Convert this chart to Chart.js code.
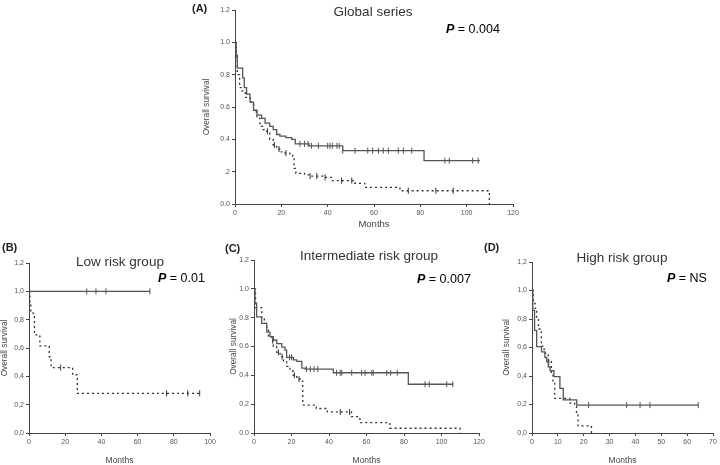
<!DOCTYPE html>
<html>
<head>
<meta charset="utf-8">
<script src="https://cdn.jsdelivr.net/npm/chart.js@4.4.0/dist/chart.umd.min.js"></script>
<style>
  body { margin:0; width:720px; height:465px; background:#fff; position:relative; overflow:hidden; font-family:"Liberation Sans", Arial, sans-serif; }
  canvas { position:absolute; }
  .txt { position:absolute; white-space:nowrap; line-height:1; }
  .title { font-size:13.5px; color:#333; transform:translate(-50%,-50%); }
  .pval { font-size:12.5px; color:#000; transform:translateY(-50%); }
  .pval i { font-weight:bold; }
  .lab { font-size:11px; font-weight:bold; color:#222; transform:translateY(-50%); }
</style>
</head>
<body>

<canvas id="cA" width="340" height="240" style="left:190px;top:0px;width:340px;height:240px"></canvas>
<canvas id="cB" width="225" height="225" style="left:0px;top:240px;width:225px;height:225px"></canvas>
<canvas id="cC" width="265" height="225" style="left:225px;top:240px;width:265px;height:225px"></canvas>
<canvas id="cD" width="230" height="225" style="left:490px;top:240px;width:230px;height:225px"></canvas>

<div class="txt lab" style="left:192px;top:8px">(A)</div>
<div class="txt title" style="left:373px;top:12px">Global series</div>
<div class="txt pval" style="left:446px;top:29px"><i>P</i> = 0.004</div>

<div class="txt lab" style="left:2px;top:247px">(B)</div>
<div class="txt title" style="left:120px;top:262px">Low risk group</div>
<div class="txt pval" style="left:158px;top:278px"><i>P</i> = 0.01</div>

<div class="txt lab" style="left:225px;top:248px">(C)</div>
<div class="txt title" style="left:369px;top:256px">Intermediate risk group</div>
<div class="txt pval" style="left:417px;top:279px"><i>P</i> = 0.007</div>

<div class="txt lab" style="left:484px;top:247px">(D)</div>
<div class="txt title" style="left:622px;top:258px">High risk group</div>
<div class="txt pval" style="left:667px;top:278px"><i>P</i> = NS</div>

<script>
// ---- data (months, survival, censored times) ----

// (A) global series
const monthsA1 = [0, 0.5, 1, 3.3, 4, 5, 6.5, 8, 9.5, 11.5, 13, 15, 16.5, 18, 19.4, 22, 24.5, 26, 32, 46.5, 81.6, 105.7];
const survA1 = [1.0, 0.92, 0.84, 0.78, 0.72, 0.68, 0.63, 0.58, 0.55, 0.53, 0.50, 0.48, 0.46, 0.43, 0.42, 0.41, 0.40, 0.372, 0.36, 0.33, 0.268, 0.268];
const censA1 = [28, 30, 31.5, 33, 36, 40, 41, 42, 44, 45, 46.5, 51.8, 57.3, 59.4, 61.9, 64, 66.2, 70.5, 72.7, 76.3, 90.6, 92.5, 102.6, 105];
const monthsA2 = [0, 0.5, 1, 2, 3, 4.5, 6.5, 8, 9.5, 10.8, 12, 13.7, 15, 16.5, 18, 19.4, 21, 23.7, 24.9, 25.5, 26.3, 30, 32.4, 38, 42, 51.8, 56, 71.2, 109.8];
const survA2 = [1.0, 0.9, 0.8, 0.72, 0.70, 0.66, 0.63, 0.57, 0.53, 0.48, 0.46, 0.45, 0.40, 0.365, 0.34, 0.323, 0.315, 0.31, 0.283, 0.22, 0.19, 0.18, 0.173, 0.165, 0.145, 0.128, 0.103, 0.082, 0.0];
const censA2 = [14, 17, 19, 22, 32.4, 35.3, 38.9, 46, 50.4, 74.8, 86.7, 94.2];

// (B) low risk
const monthsB1 = [0, 66.8];
const survB1 = [1.0, 1.0];
const censB1 = [31.9, 37, 42.5, 66.8];
const monthsB2 = [0, 0.5, 1, 3, 6, 11.2, 12.2, 24.1, 26.7, 94.3];
const survB2 = [1.0, 0.923, 0.846, 0.692, 0.615, 0.538, 0.462, 0.41, 0.28, 0.28];
const censB2 = [17.5, 76, 87.7, 94.3];

// (C) intermediate risk
const monthsC1 = [0, 0.5, 1.4, 4.1, 6.8, 8.5, 10.3, 12.1, 14.8, 16.5, 17.4, 21, 22.8, 25.5, 27.3, 42.3, 82.3, 106.3];
const survC1 = [1.0, 0.9, 0.806, 0.76, 0.70, 0.668, 0.645, 0.62, 0.595, 0.575, 0.525, 0.507, 0.497, 0.45, 0.443, 0.418, 0.338, 0.338];
const censC1 = [19, 20, 28, 30, 32, 34, 44, 46, 46.8, 52.1, 57.4, 59.2, 62.8, 63.6, 70.8, 72.9, 76.4, 91.2, 93.5, 102.8, 106];
const monthsC2 = [0, 0.8, 4.1, 5.5, 6.8, 7.7, 9.5, 10.3, 12.1, 13.9, 15.7, 17.4, 19.2, 21, 22.8, 24.6, 26, 33.2, 39.1, 52, 56.5, 72.5, 109.9];
const survC2 = [1.0, 0.87, 0.80, 0.76, 0.72, 0.67, 0.64, 0.6, 0.56, 0.53, 0.50, 0.462, 0.43, 0.40, 0.375, 0.36, 0.194, 0.17, 0.146, 0.113, 0.072, 0.033, 0.0];
const censC2 = [10, 13, 15, 21.5, 24, 46, 51];

// (D) high risk
const monthsD1 = [0, 0.3, 1, 1.8, 3.7, 5, 5.7, 6.3, 7, 8.5, 10.8, 12.1, 17.3, 64.3];
const survD1 = [1.0, 0.86, 0.72, 0.606, 0.57, 0.53, 0.50, 0.465, 0.437, 0.395, 0.313, 0.232, 0.196, 0.196];
const censD1 = [21.9, 36.6, 41.8, 45.6, 64.3];
const monthsD2 = [0, 0.5, 1.2, 1.8, 2.5, 3.6, 4.7, 6.3, 7.5, 8.1, 8.8, 14.6, 16.5, 17.2, 17.8, 23];
const survD2 = [1.0, 0.91, 0.875, 0.8, 0.73, 0.61, 0.56, 0.50, 0.42, 0.35, 0.243, 0.21, 0.19, 0.135, 0.05, 0.0];
const censD2 = [6.5];

// tick labels
const yLabelsA = ['0.0', '.2', '0.4', '0.6', '0.8', '1.0', '1.2'];
const xLabelsA = ['0', '20', '40', '60', '80', '100', '120'];
const yLabelsB = ['0,0', '0,2', '0,4', '0,6', '0,8', '1,0', '1,2'];
const xLabelsB = ['0', '20', '40', '60', '80', '100'];
const yLabelsC = ['0.0', '0.2', '0.4', '0.6', '0.8', '1.0', '1.2'];
const xLabelsC = ['0', '20', '40', '60', '80', '100', '120'];
const yLabelsD = ['0,0', '0,2', '0,4', '0,6', '0,8', '1,0', '1,2'];
const xLabelsD = ['0', '10', '20', '30', '40', '50', '60', '70'];


const SOLID = '#555';
const DASHED = '#333';

// value of the KM step curve at time t
function stepAt(times, surv, t) {
    let v = surv[0];
    for (let i = 0; i < times.length; i++) {
        if (times[i] <= t) v = surv[i];
    }
    return v;
}

function curve(times, surv, dashed) {
    return {
        data: times.map((t, i) => ({ x: t, y: surv[i] })),
        borderColor: dashed ? DASHED : SOLID,
        borderWidth: 1.3,
        borderDash: dashed ? [2, 3] : [],
        stepped: 'before',
        pointRadius: 0,
        fill: false
    };
}

function censors(times, surv, cens, dashed) {
    return {
        data: cens.map(t => ({ x: t, y: stepAt(times, surv, t) })),
        showLine: false,
        pointStyle: 'line',
        pointRotation: 90,
        pointRadius: 3,
        pointBorderWidth: 1,
        pointBorderColor: dashed ? DASHED : SOLID,
        borderColor: dashed ? DASHED : SOLID
    };
}

// box = canvas placement, plot = wanted plot area (page px)
function makePanel(id, box, plot, xMax, xStep, xLabels, yLabels, datasets, yTitlePad, xTitlePad, monthsSize) {
    new Chart(document.getElementById(id), {
        type: 'line',
        data: { datasets: datasets },
        options: {
            responsive: false,
            animation: false,
            devicePixelRatio: 1,
            layout: {
                padding: {
                    left: 0,
                    top: plot.y0 - box.top,
                    right: box.left + box.w - plot.x1,
                    bottom: 0
                }
            },
            plugins: { legend: { display: false }, tooltip: { enabled: false } },
            scales: {
                x: {
                    type: 'linear',
                    min: 0,
                    max: xMax,
                    afterFit: s => { s.height = box.top + box.h - plot.y1; },
                    ticks: {
                        stepSize: xStep,
                        font: { size: 7, family: 'Liberation Sans' },
                        color: '#555',
                        padding: 2,
                        maxRotation: 0,
                        callback: v => xLabels[Math.round(v / xStep)]
                    },
                    grid: { display: true, drawOnChartArea: false, tickLength: 3, color: '#444' },
                    border: { display: true, color: '#444', width: 1 },
                    title: {
                        display: true,
                        text: 'Months',
                        color: '#444',
                        font: { size: monthsSize, family: 'Liberation Sans', lineHeight: 1 },
                        padding: { top: 0, bottom: xTitlePad }
                    }
                },
                y: {
                    min: 0,
                    max: 1.2,
                    afterFit: s => { s.width = plot.x0 - box.left; },
                    ticks: {
                        stepSize: 0.2,
                        font: { size: 7, family: 'Liberation Sans' },
                        color: '#555',
                        padding: 2,
                        callback: v => yLabels[Math.round(v / 0.2)]
                    },
                    grid: { display: true, drawOnChartArea: false, tickLength: 3, color: '#444' },
                    border: { display: true, color: '#444', width: 1 },
                    title: {
                        display: true,
                        text: 'Overall survival',
                        color: '#444',
                        font: { size: 8.3, family: 'Liberation Sans', lineHeight: 1 },
                        padding: { top: yTitlePad, bottom: 0 }
                    }
                }
            }
        }
    });
}


makePanel('cA', { left: 190, top: 0, w: 340, h: 240 }, { x0: 235, x1: 513, y0: 10, y1: 204 },
    120, 20, xLabelsA, yLabelsA, [
        curve(monthsA1, survA1, false),
        curve(monthsA2, survA2, true),
        censors(monthsA1, survA1, censA1, false),
        censors(monthsA2, survA2, censA2, true)
    ], 13, 10.5, 9.5);

makePanel('cB', { left: 0, top: 240, w: 225, h: 225 }, { x0: 29, x1: 210, y0: 263, y1: 433 },
    100, 20, xLabelsB, yLabelsB, [
        curve(monthsB1, survB1, false),
        curve(monthsB2, survB2, true),
        censors(monthsB1, survB1, censB1, false),
        censors(monthsB2, survB2, censB2, true)
    ], 1, 0, 8.5);

makePanel('cC', { left: 225, top: 240, w: 265, h: 225 }, { x0: 254, x1: 479, y0: 260, y1: 433 },
    120, 20, xLabelsC, yLabelsC, [
        curve(monthsC1, survC1, false),
        curve(monthsC2, survC2, true),
        censors(monthsC1, survC1, censC1, false),
        censors(monthsC2, survC2, censC2, true)
    ], 5, 0, 8.5);

makePanel('cD', { left: 490, top: 240, w: 230, h: 225 }, { x0: 532, x1: 713, y0: 262, y1: 433 },
    70, 10, xLabelsD, yLabelsD, [
        curve(monthsD1, survD1, false),
        curve(monthsD2, survD2, true),
        censors(monthsD1, survD1, censD1, false),
        censors(monthsD2, survD2, censD2, true)
    ], 13, 0, 8.5);
</script>
</body>
</html>
